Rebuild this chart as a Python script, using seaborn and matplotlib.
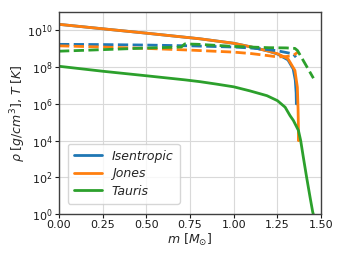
import numpy as np
import pandas as pd
import matplotlib
matplotlib.use("Agg")
import matplotlib.pyplot as plt
import seaborn as sns

# ---- data ----
# Densities (solid lines)
iso_rho_m = [0.0, 0.25, 0.5, 0.75, 0.807, 1.0, 1.1, 1.2, 1.25, 1.31, 1.34, 1.352, 1.357, 1.358, 1.358]
iso_rho_v = [2.15e10, 1.23e10, 7.1e9, 4.0e9, 3.5e9, 2.0e9, 1.26e9, 7.4e8, 5.2e8, 2.5e8, 8.0e7, 2.0e7, 4.0e6, 1.5e6, 1.0e6]

jones_rho_m = [0.0, 0.25, 0.5, 0.75, 0.807, 1.0, 1.1, 1.2, 1.25, 1.31, 1.35, 1.364, 1.368, 1.370, 1.370, 1.372]
jones_rho_v = [2.15e10, 1.23e10, 7.1e9, 4.0e9, 3.5e9, 2.0e9, 1.26e9, 7.4e8, 5.4e8, 2.9e8, 6.6e7, 8.0e6, 5.0e5, 5.0e4, 1.0e4, 1.0e4]

tauris_rho_m = [0.0, 0.25, 0.5, 0.72, 0.807, 0.9, 1.0, 1.093, 1.19, 1.25, 1.294, 1.322, 1.341, 1.37, 1.383, 1.398, 1.417, 1.437, 1.452, 1.455]
tauris_rho_v = [1.12e8, 6.0e7, 3.4e7, 2.04e7, 1.62e7, 1.2e7, 8.5e6, 5.1e6, 2.8e6, 1.5e6, 6.6e5, 2.3e5, 1.26e5, 3.6e4, 1.0e4, 1.26e3, 1.0e2, 7.9e0, 1.26e0, 1.0e0]

# Temperatures (dashed lines)
iso_T_m = [0.0, 0.25, 0.5, 0.75, 1.0, 1.1, 1.2, 1.25, 1.3, 1.34, 1.356]
iso_T_v = [1.75e9, 1.7e9, 1.6e9, 1.45e9, 1.25e9, 1.1e9, 9.0e8, 7.8e8, 6.3e8, 5.3e8, 3.5e8]

jones_T_m = [0.0, 0.25, 0.5, 0.75, 1.0, 1.1, 1.2, 1.25, 1.3, 1.34, 1.366]
jones_T_v = [1.45e9, 1.25e9, 1.05e9, 8.5e8, 6.6e8, 5.5e8, 4.2e8, 3.6e8, 3.8e8, 4.3e8, 6.5e8]

tauris_T_m = [0.0, 0.25, 0.5, 0.7, 0.72, 0.8, 1.0, 1.2, 1.3, 1.35, 1.365, 1.456]
tauris_T_v = [7.4e8, 9.0e8, 1.1e9, 1.25e9, 1.85e9, 1.75e9, 1.35e9, 1.15e9, 1.12e9, 1.05e9, 8.0e8, 2.5e7]

labels = ["Isentropic", "Jones", "Tauris"]
x_ticks = [0.0, 0.25, 0.5, 0.75, 1.0, 1.25, 1.5]

sns.set_style("whitegrid")
plt.rcParams.update({
    "axes.edgecolor": "0.25",
    "axes.linewidth": 1.0,
    "grid.color": "0.85",
    "xtick.bottom": True,
    "ytick.left": True,
    "xtick.major.size": 3,
    "ytick.major.size": 3,
    "font.size": 8,
})
plt.rcParams["font.family"] = ["DejaVu Sans"]

fig = plt.figure(figsize=(3.42, 2.57), dpi=100)
ax = fig.add_axes([0.1725, 0.167, 0.7665, 0.786])

colors = sns.color_palette("tab10")[:3]
solid = [(iso_rho_m, iso_rho_v), (jones_rho_m, jones_rho_v), (tauris_rho_m, tauris_rho_v)]
dashed = [(iso_T_m, iso_T_v), (jones_T_m, jones_T_v), (tauris_T_m, tauris_T_v)]

for (m, v), c, lab in zip(solid, colors, labels):
    sns.lineplot(x=m, y=v, ax=ax, color=c, lw=2, sort=False, estimator=None, label=lab)
for (m, v), c in zip(dashed, colors):
    sns.lineplot(x=m, y=v, ax=ax, color=c, lw=2, ls="--", sort=False, estimator=None)

ax.set_yscale("log")
ax.set_xlim(0, 1.5)
ax.set_ylim(1, 1e11)
ax.set_xticks(x_ticks)
ax.set_xticklabels([f"{t:.2f}" for t in x_ticks])
ax.set_yticks([1e0, 1e2, 1e4, 1e6, 1e8, 1e10])
ax.minorticks_off()
ax.tick_params(labelsize=8, pad=1.5, colors="0.1")
ax.set_xlabel(r"$m$ [$M_{\odot}$]", fontsize=9, labelpad=1)
ax.set_ylabel(r"$\rho$ [$g/cm^3$], $T$ [$K$]", fontsize=9)
ax.yaxis.set_label_coords(-0.118, 0.5)

leg = ax.legend(loc="lower left", bbox_to_anchor=(0.01, 0.02), prop={"style": "italic", "size": 9},
                frameon=True, handlelength=2.2, borderpad=0.5, labelspacing=0.35)
leg.get_frame().set_edgecolor("0.8")

fig.savefig("out.png", dpi=100)
